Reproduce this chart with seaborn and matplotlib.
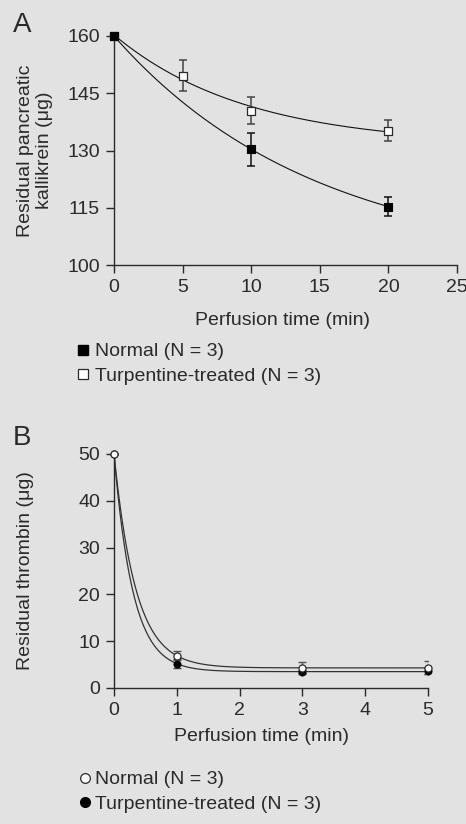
import matplotlib
matplotlib.use("Agg")
import matplotlib.pyplot as plt
from matplotlib.lines import Line2D
import seaborn as sns
import numpy as np
import pandas as pd

# --- dati ---
# pannello A: callicreina pancreatica residua
t_a_normal = [0, 10, 20]
y_a_normal = [160, 130.3, 115.3]
e_a_normal = [0, 4.3, 2.5]

t_a_turp = [0, 5, 10, 20]
y_a_turp = [160, 149.6, 140.4, 135.2]
e_a_turp = [0, 4.1, 3.5, 2.8]

# pannello B: trombina residua
t_b = [0, 1, 3, 5]
y_b_normal = [50, 6.9, 4.3, 4.3]
e_b_normal = [0, 1.0, 1.2, 1.4]
y_b_turp = [50, 5.2, 3.4, 3.6]
e_b_turp = [0, 1.0, 0.5, 0.6]

legend_a = ["Normal (N = 3)", "Turpentine-treated (N = 3)"]
legend_b = ["Normal (N = 3)", "Turpentine-treated (N = 3)"]

bg = "#e2e2e2"
ink = "#2a2a2a"
sns.set_theme(style="ticks")
plt.rcParams["font.family"] = ["Liberation Sans", "DejaVu Sans"]
plt.rcParams["figure.facecolor"] = bg
plt.rcParams["axes.facecolor"] = bg
plt.rcParams["savefig.facecolor"] = bg
plt.rcParams["font.size"] = 14


def fit_exp(t, y, t_max):
    # y = A + B*exp(-k t): cerca k, A e B ai minimi quadrati
    t = np.asarray(t, float)
    y = np.asarray(y, float)
    best = None
    for k in np.linspace(0.01, 6, 3000):
        M = np.column_stack([np.ones_like(t), np.exp(-k * t)])
        coef, *_ = np.linalg.lstsq(M, y, rcond=None)
        r = np.sum((M @ coef - y) ** 2)
        if best is None or r < best[0]:
            best = (r, k, coef)
    _, k, (A, B) = best
    tt = np.linspace(0, t_max, 300)
    return pd.DataFrame({"t": tt, "y": A + B * np.exp(-k * tt)})


fig = plt.figure(figsize=(4.66, 8.24), dpi=100)
ax1 = fig.add_axes([114 / 466, 1 - 265 / 824, 343 / 466, 229 / 824])
ax2 = fig.add_axes([114 / 466, 1 - 688 / 824, 314 / 466, 234 / 824])

# ---- pannello A ----
sns.lineplot(data=fit_exp(t_a_normal, y_a_normal, 20), x="t", y="y", ax=ax1,
             color="#111111", lw=0.8)
sns.lineplot(data=fit_exp(t_a_turp, y_a_turp, 20), x="t", y="y", ax=ax1,
             color="#111111", lw=0.8)
ax1.errorbar(t_a_turp, y_a_turp, yerr=e_a_turp, fmt="none", ecolor="#444444",
             elinewidth=1.1, capsize=3, capthick=1.1)
ax1.errorbar(t_a_normal, y_a_normal, yerr=e_a_normal, fmt="none", ecolor="#111111",
             elinewidth=1.1, capsize=3, capthick=1.1)
sns.scatterplot(x=t_a_turp, y=y_a_turp, ax=ax1, marker="s", s=26, color="white",
                edgecolor=ink, linewidth=0.9, zorder=4, clip_on=False)
sns.scatterplot(x=t_a_normal, y=y_a_normal, ax=ax1, marker="s", s=30, color="black",
                edgecolor="black", linewidth=0.8, zorder=5, clip_on=False)
ax1.set_xlim(0, 25)
ax1.set_ylim(100, 160)
ax1.set_xticks([0, 5, 10, 15, 20, 25])
ax1.set_yticks([100, 115, 130, 145, 160])
ax1.set_xlabel("Perfusion time (min)", fontsize=14)
ax1.set_ylabel("Residual pancreatic\nkallikrein (μg)", fontsize=14,
               linespacing=1.15)
ax1.xaxis.set_label_coords(0.49, -0.205)
ax1.yaxis.set_label_coords(-0.177, 0.5)

# ---- pannello B ----
sns.lineplot(data=fit_exp(t_b, y_b_normal, 5), x="t", y="y", ax=ax2,
             color="#333333", lw=0.9)
sns.lineplot(data=fit_exp(t_b, y_b_turp, 5), x="t", y="y", ax=ax2,
             color="#333333", lw=0.9)
ax2.errorbar(t_b, y_b_turp, yerr=e_b_turp, fmt="none", ecolor="#444444",
             elinewidth=1.0, capsize=3, capthick=1.0)
ax2.errorbar(t_b, y_b_normal, yerr=e_b_normal, fmt="none", ecolor="#555555",
             elinewidth=1.0, capsize=3, capthick=1.0)
sns.scatterplot(x=t_b, y=y_b_turp, ax=ax2, marker="o", s=28, color="black",
                edgecolor="black", zorder=4, clip_on=False)
sns.scatterplot(x=t_b, y=y_b_normal, ax=ax2, marker="o", s=26, color="white",
                edgecolor=ink, linewidth=0.9, zorder=5, clip_on=False)
ax2.set_xlim(0, 5)
ax2.set_ylim(0, 50)
ax2.set_xticks([0, 1, 2, 3, 4, 5])
ax2.set_yticks([0, 10, 20, 30, 40, 50])
ax2.set_xlabel("Perfusion time (min)", fontsize=14)
ax2.set_ylabel("Residual thrombin (μg)", fontsize=14)
ax2.xaxis.set_label_coords(0.47, -0.17)
ax2.yaxis.set_label_coords(-0.255, 0.5)

for ax in (ax1, ax2):
    sns.despine(ax=ax)
    ax.spines["left"].set_linewidth(1.0)
    ax.spines["bottom"].set_linewidth(1.0)
    ax.spines["left"].set_color(ink)
    ax.spines["bottom"].set_color(ink)
    ax.tick_params(length=6, width=1.0, color=ink, labelsize=14,
                   labelcolor=ink, pad=4)
    ax.xaxis.label.set_color(ink)
    ax.yaxis.label.set_color(ink)

# lettere dei pannelli
fig.text(13 / 466, 1 - 25 / 824, "A", fontsize=20, va="center", color=ink)
fig.text(13 / 466, 1 - 438 / 824, "B", fontsize=20, va="center", color=ink)

# legende sotto ai pannelli
h_a = [Line2D([], [], ls="none", marker="s", ms=7, mfc="black", mec="black"),
       Line2D([], [], ls="none", marker="s", ms=7, mfc="white", mec=ink, mew=0.9)]
fig.legend(h_a, legend_a, loc="upper left", bbox_to_anchor=(66 / 466, 1 - 333 / 824),
           frameon=False, fontsize=14, handlelength=0.7, handletextpad=0.3,
           labelspacing=0.35, borderpad=0, labelcolor=ink)
h_b = [Line2D([], [], ls="none", marker="o", ms=7, mfc="white", mec=ink, mew=0.9),
       Line2D([], [], ls="none", marker="o", ms=7, mfc="black", mec="black")]
fig.legend(h_b, legend_b, loc="upper left", bbox_to_anchor=(68 / 466, 1 - 761 / 824),
           frameon=False, fontsize=14, handlelength=0.7, handletextpad=0.2,
           labelspacing=0.35, borderpad=0, labelcolor=ink)

fig.savefig("out.png", dpi=100)
